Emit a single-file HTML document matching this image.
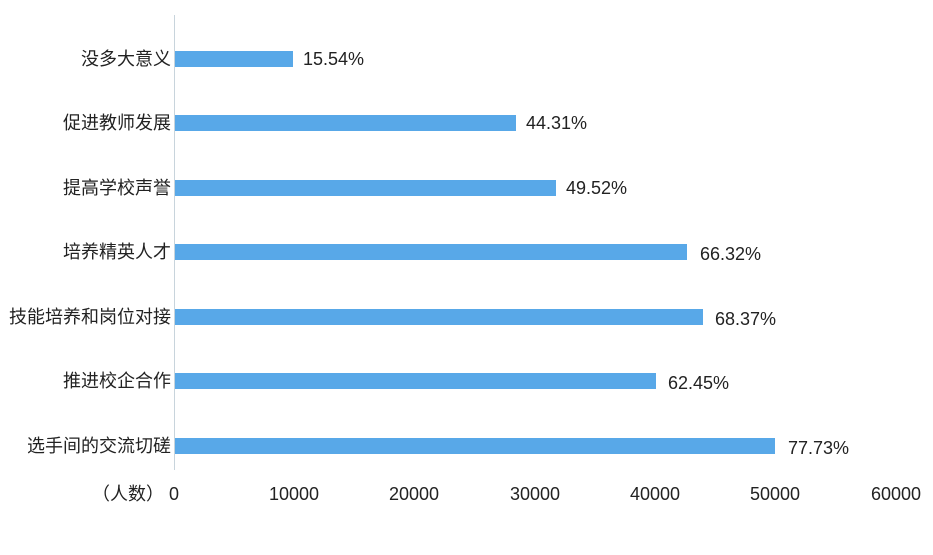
<!DOCTYPE html>
<html><head><meta charset="utf-8"><style>
body{margin:0;background:#fff;width:933px;height:555px;overflow:hidden;position:relative;font-family:"Liberation Sans","Noto Sans CJK SC",sans-serif;color:#222}
.l{position:absolute;right:762px;font-size:18px;line-height:20px;white-space:nowrap}
.b{position:absolute;left:175px;height:16px;background:#58a8e8}
.v{position:absolute;font-size:18px;line-height:20px}
.t{position:absolute;top:484px;font-size:18px;line-height:20px;transform:translateX(-50%)}
</style></head><body>
<div style="position:absolute;left:174px;top:15px;width:1px;height:455px;background:#c8d4dc"></div>
<div class="l" style="top:49px">没多大意义</div><div class="b" style="top:51px;width:118px"></div><div class="v" style="left:303px;top:49px">15.54%</div>
<div class="l" style="top:113px">促进教师发展</div><div class="b" style="top:115px;width:341px"></div><div class="v" style="left:526px;top:113px">44.31%</div>
<div class="l" style="top:178px">提高学校声誉</div><div class="b" style="top:180px;width:381px"></div><div class="v" style="left:566px;top:178px">49.52%</div>
<div class="l" style="top:242px">培养精英人才</div><div class="b" style="top:244px;width:512px"></div><div class="v" style="left:700px;top:244px">66.32%</div>
<div class="l" style="top:307px">技能培养和岗位对接</div><div class="b" style="top:309px;width:528px"></div><div class="v" style="left:715px;top:309px">68.37%</div>
<div class="l" style="top:371px">推进校企合作</div><div class="b" style="top:373px;width:481px"></div><div class="v" style="left:668px;top:373px">62.45%</div>
<div class="l" style="top:436px">选手间的交流切磋</div><div class="b" style="top:438px;width:600px"></div><div class="v" style="left:788px;top:438px">77.73%</div>
<div class="t" style="left:128px">（人数）</div>
<div class="t" style="left:174px">0</div>
<div class="t" style="left:294px">10000</div>
<div class="t" style="left:414px">20000</div>
<div class="t" style="left:535px">30000</div>
<div class="t" style="left:655px">40000</div>
<div class="t" style="left:775px">50000</div>
<div class="t" style="left:896px">60000</div>
</body></html>
